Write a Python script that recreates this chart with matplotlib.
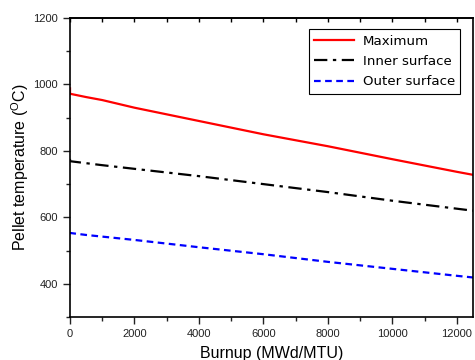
import numpy as np
import matplotlib
matplotlib.use("Agg")
import matplotlib.pyplot as plt
from matplotlib.ticker import MultipleLocator

# burnup (MWd/MTU) and pellet temperatures (C)
burnup = [0, 0, 500, 1000, 2000, 4000, 6000, 8000, 10000, 12000, 12500]
t_max = [988, 972, 962, 953, 930, 890, 850, 814, 775, 737, 728]
t_inner = [776, 769, 763, 757, 746, 724, 700, 676, 650, 626, 620]
t_outer = [555, 553, 547, 542, 532, 510, 489, 466, 445, 424, 419]

labels = ['Maximum', 'Inner surface', 'Outer surface']

plt.rcParams['font.family'] = ['Liberation Sans', 'DejaVu Sans']
plt.rcParams['mathtext.default'] = 'regular'

fig = plt.figure(figsize=(4.75, 3.6), dpi=100)
ax = fig.add_axes([0.1474, 0.1194, 0.8484, 0.8306])

ax.plot(burnup, t_max, color='red', lw=1.6, label=labels[0])
ax.plot(burnup, t_inner, color='black', lw=1.6, dashes=(6, 2.5, 1.5, 2.5), label=labels[1])
ax.plot(burnup, t_outer, color='blue', lw=1.6, dashes=(3, 2), label=labels[2])

ax.set_xlim(0, 12500)
ax.set_ylim(300, 1200)
ax.xaxis.set_major_locator(MultipleLocator(2000))
ax.xaxis.set_minor_locator(MultipleLocator(1000))
ax.yaxis.set_major_locator(MultipleLocator(200))
ax.yaxis.set_minor_locator(MultipleLocator(100))

ax.tick_params(which='both', direction='out', top=False, right=False, labelsize=8, colors='#222222')
ax.tick_params(which='major', length=5, width=1)
ax.tick_params(which='minor', length=3, width=1)

# inward ticks on the top edge
sec = ax.secondary_xaxis('top')
sec.xaxis.set_major_locator(MultipleLocator(1000))
sec.tick_params(direction='in', length=3, width=1, labeltop=False)

for s in ax.spines.values():
    s.set_linewidth(1.2)
sec.spines['top'].set_linewidth(1.2)

ax.set_xlabel('Burnup (MWd/MTU)', fontsize=11.5, labelpad=5)
ax.set_ylabel('Pellet temperature ($^{O}$C)', fontsize=11.5, labelpad=2)

leg = ax.legend(loc='upper right', bbox_to_anchor=(0.978, 0.975), fancybox=False,
                edgecolor='black', framealpha=1, handlelength=3.0,
                borderpad=0.4, labelspacing=0.55, handletextpad=0.65,
                borderaxespad=0.3,
                prop={'family': 'DejaVu Sans', 'size': 9.6})
leg.get_frame().set_linewidth(0.8)

fig.savefig('out.png', dpi=100)
